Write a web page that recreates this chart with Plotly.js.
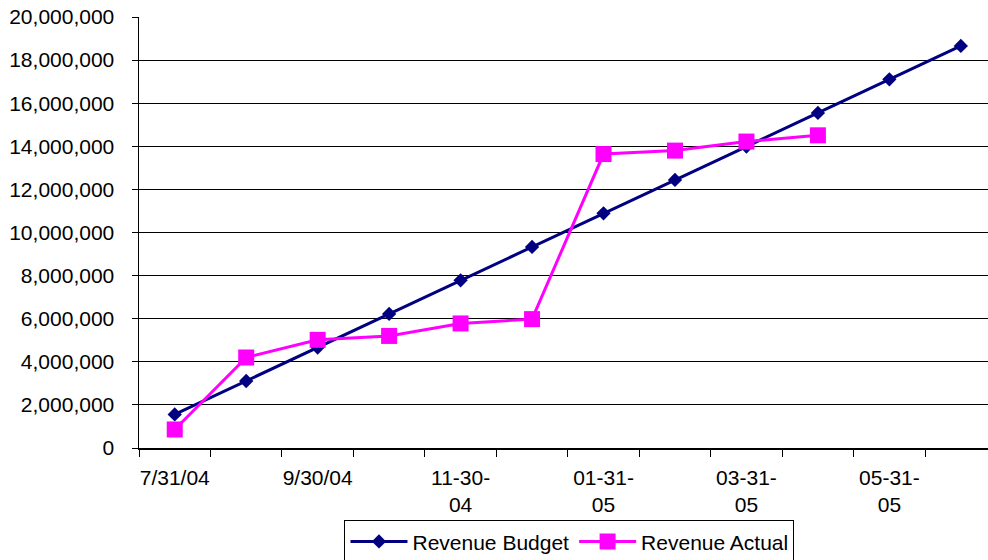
<!DOCTYPE html>
<html>
<head>
<meta charset="utf-8">
<script src="https://cdn.plot.ly/plotly-3.0.1.min.js"></script>
<style>
  html, body { margin: 0; padding: 0; background: #fff; }
  #chart { width: 988px; height: 560px; }
</style>
</head>
<body>
<div id="chart"></div>
<script>
// Month-end reporting dates (one category per month)
const months = ['7/31/04', '8/31/04', '9/30/04', '10/31/04', '11/30/04', '12/31/04',
                '1/31/05', '2/28/05', '3/31/05', '4/30/05', '5/31/05', '6/30/05'];
// Axis labels, shown on every other month
const monthLabels = ['7/31/04', '', '9/30/04', '', '11-30-<br>04', '',
                     '01-31-<br>05', '', '03-31-<br>05', '', '05-31-<br>05', ''];

// Cumulative revenue
const revenueBudget = [1560000, 3110000, 4660000, 6220000, 7780000, 9330000,
                       10890000, 12440000, 13990000, 15550000, 17110000, 18660000];
const revenueActual = [860000, 4200000, 5020000, 5200000, 5780000, 5980000,
                       13640000, 13800000, 14220000, 14510000];

const yTicks = [0, 2000000, 4000000, 6000000, 8000000, 10000000,
                12000000, 14000000, 16000000, 18000000, 20000000];

const fontFamily = '"Liberation Sans", Arial, sans-serif';

const traces = [
  {
    name: 'Revenue Budget',
    type: 'scatter',
    mode: 'lines+markers',
    x: months,
    y: revenueBudget,
    line: { color: '#000080', width: 3 },
    marker: { symbol: 'diamond', size: 11, color: '#000080' }
  },
  {
    name: 'Revenue Actual',
    type: 'scatter',
    mode: 'lines+markers',
    x: months.slice(0, revenueActual.length),
    y: revenueActual,
    line: { color: '#FF00FF', width: 3 },
    marker: { symbol: 'square', size: 16, color: '#FF00FF' }
  }
];

const layout = {
  width: 988,
  height: 560,
  margin: { l: 139, r: 0, t: 17, b: 112, autoexpand: false },
  paper_bgcolor: '#ffffff',
  plot_bgcolor: '#ffffff',
  font: { family: fontFamily, size: 21, color: '#000' },
  showlegend: true,
  legend: {
    orientation: 'h',
    xref: 'container',
    yref: 'container',
    x: 0.5764,
    xanchor: 'center',
    y: 0.071,
    yanchor: 'top',
    bordercolor: '#000',
    borderwidth: 1,
    font: { family: fontFamily, size: 21, color: '#000' },
    itemwidth: 57,
    tracegroupgap: 0
  },
  xaxis: {
    type: 'category',
    categoryorder: 'array',
    categoryarray: months,
    range: [-0.5, 11.38],
    tickmode: 'array',
    tickvals: months,
    ticktext: monthLabels,
    tickson: 'boundaries',
    ticks: 'outside',
    ticklen: 7,
    tickwidth: 1,
    tickcolor: '#000',
    ticklabelstandoff: 10,
    showgrid: false,
    showline: true,
    linecolor: '#000',
    linewidth: 1.5,
    zeroline: false,
    tickangle: 0,
    tickfont: { family: fontFamily, size: 21, color: '#000' },
    fixedrange: true
  },
  yaxis: {
    range: [0, 20000000],
    tickmode: 'array',
    tickvals: yTicks,
    tickformat: ',d',
    ticks: 'outside',
    ticklen: 6,
    tickwidth: 1,
    tickcolor: '#000',
    ticklabelstandoff: 13,
    showgrid: true,
    gridcolor: '#000',
    gridwidth: 1,
    showline: true,
    linecolor: '#000',
    linewidth: 1.5,
    zeroline: false,
    tickfont: { family: fontFamily, size: 21, color: '#000' },
    fixedrange: true
  }
};

Plotly.newPlot('chart', traces, layout, { displayModeBar: false, staticPlot: true });
</script>
</body>
</html>
